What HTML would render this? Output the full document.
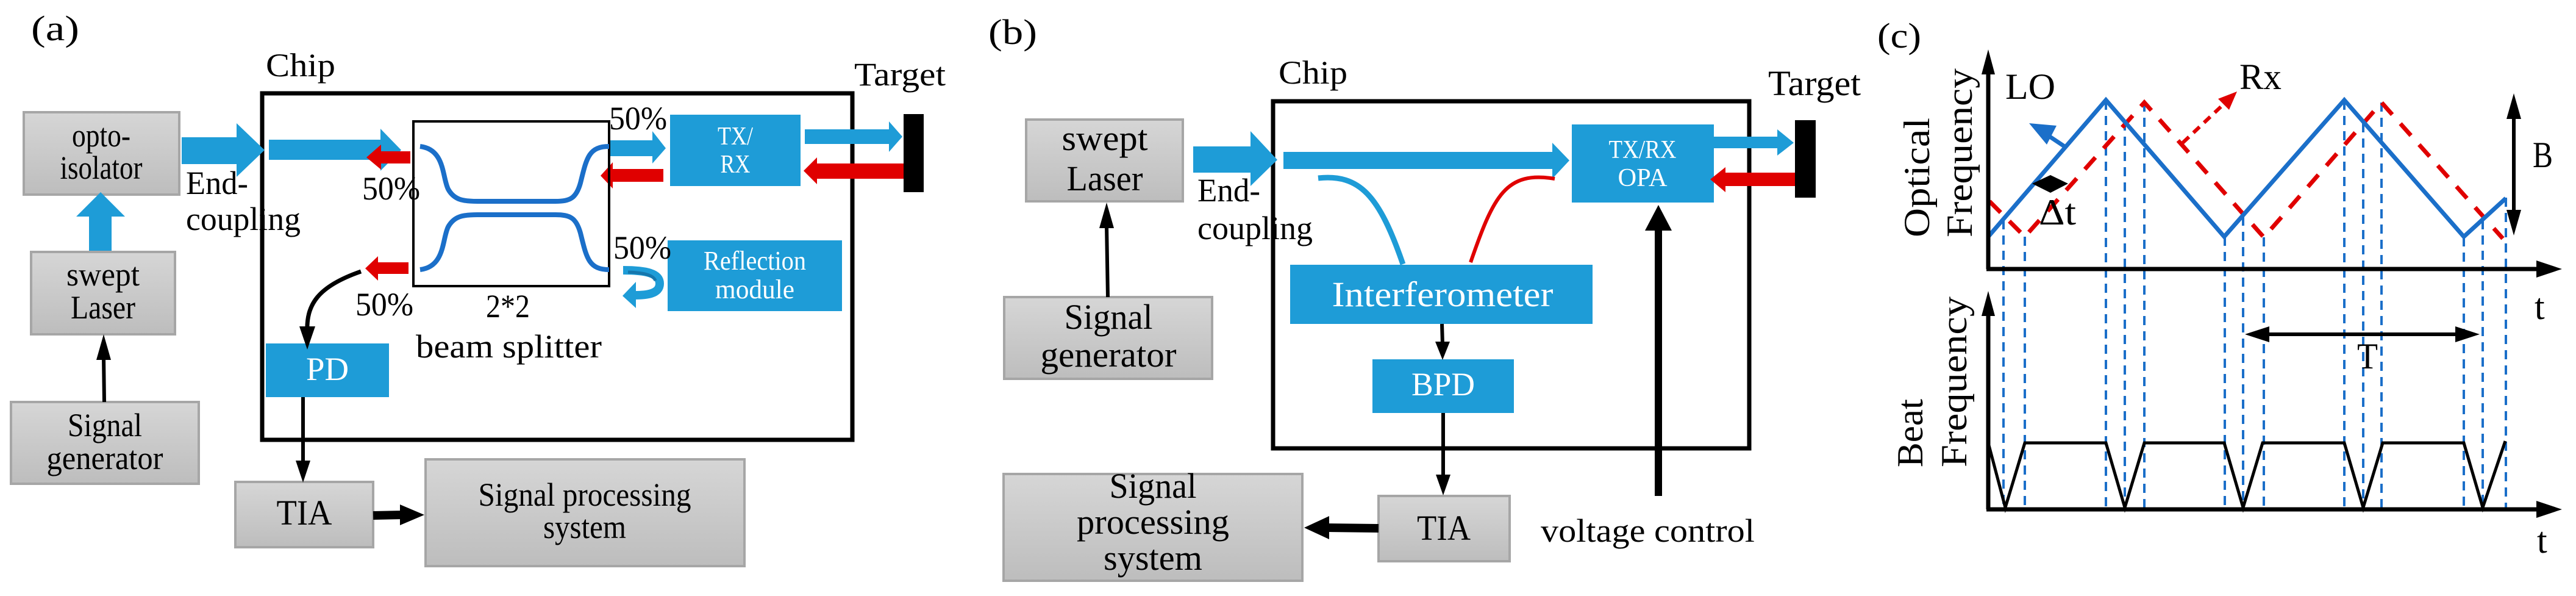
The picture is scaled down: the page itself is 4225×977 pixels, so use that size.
<!DOCTYPE html>
<html><head><meta charset="utf-8"><style>html,body{margin:0;padding:0;background:#fff;font-family:"Liberation Serif","DejaVu Serif",serif}svg{display:block}svg text{font-family:"Liberation Serif","DejaVu Serif",serif !important}</style></head>
<body>
<svg xmlns="http://www.w3.org/2000/svg" width="4225" height="977" viewBox="0 0 4225 977" font-family="'Liberation Serif', 'DejaVu Serif', serif" style="font-family:'Liberation Serif','DejaVu Serif',serif">
<defs>
<linearGradient id="g" x1="0" y1="0" x2="0" y2="1"><stop offset="0" stop-color="#d6d6d6"/><stop offset="1" stop-color="#bdbdbd"/></linearGradient>
</defs>
<rect width="4225" height="977" fill="#fff"/>
<g font-size="54" fill="#000">
<text x="51" y="66" textLength="79" lengthAdjust="spacingAndGlyphs" font-size="58">(a)</text>
<text x="436" y="125" textLength="114" lengthAdjust="spacingAndGlyphs">Chip</text>
<rect x="430" y="153" width="968" height="568" fill="none" stroke="#000" stroke-width="7"/>
<g fill="url(#g)" stroke="#a6a6a6" stroke-width="4">
<rect x="39" y="184" width="255" height="135"/>
<rect x="51" y="413" width="236" height="135"/>
<rect x="18" y="659" width="308" height="134"/>
<rect x="386" y="790" width="226" height="107"/>
<rect x="698" y="753" width="523" height="175"/>
</g>
<text x="166" y="240" text-anchor="middle" textLength="96" lengthAdjust="spacingAndGlyphs">opto-</text>
<text x="166" y="293" text-anchor="middle" textLength="135" lengthAdjust="spacingAndGlyphs">isolator</text>
<text x="169" y="468" text-anchor="middle" textLength="120" lengthAdjust="spacingAndGlyphs">swept</text>
<text x="169" y="522" text-anchor="middle" textLength="106" lengthAdjust="spacingAndGlyphs">Laser</text>
<text x="172" y="715" text-anchor="middle" textLength="122" lengthAdjust="spacingAndGlyphs">Signal</text>
<text x="172" y="769" text-anchor="middle" textLength="191" lengthAdjust="spacingAndGlyphs">generator</text>
<text x="499" y="860" text-anchor="middle" textLength="91" lengthAdjust="spacingAndGlyphs" font-size="58">TIA</text>
<text x="959" y="829" text-anchor="middle" textLength="349" lengthAdjust="spacingAndGlyphs">Signal processing</text>
<text x="959" y="882" text-anchor="middle" textLength="136" lengthAdjust="spacingAndGlyphs">system</text>
<text x="305" y="318" textLength="102" lengthAdjust="spacingAndGlyphs">End-</text>
<text x="305" y="377" textLength="188" lengthAdjust="spacingAndGlyphs">coupling</text>
<g fill="#1e9cd7">
<polygon points="146,411 146,355 125,355 165,315 205,355 183,355 183,411"/>
<polygon points="298,225 388,225 388,202 434,246 388,290 388,269 298,269"/>
<polygon points="441,229 624,229 624,211 658,246 624,280 624,262 441,262"/>
<polygon points="999,230 1070,230 1070,215 1092,243 1070,268 1070,256 999,256"/>
<polygon points="1320,212 1458,212 1458,199 1480,224 1458,249 1458,236 1320,236"/>
<rect x="1099" y="188" width="214" height="117"/>
<rect x="1095" y="394" width="286" height="116"/>
<rect x="436" y="563" width="202" height="88"/>
</g>
<g fill="#e00000">
<polygon points="673,248 625,248 625,237 601,258 625,278 625,268 673,268"/>
<polygon points="1088,277 1005,277 1005,266 985,288 1005,309 1005,298 1088,298"/>
<polygon points="1482,268 1340,268 1340,258 1318,280 1340,302 1340,293 1482,293"/>
<polygon points="670,430 620,430 620,420 599,440 620,460 620,449 670,449"/>
</g>
<rect x="1482" y="187" width="33" height="128" fill="#000"/>
<text x="1401" y="140" textLength="150" lengthAdjust="spacingAndGlyphs">Target</text>
<rect x="678" y="199" width="321" height="270" fill="none" stroke="#000" stroke-width="4"/>
<g fill="none" stroke="#1b6fc9" stroke-width="8">
<path d="M689,240 C730,245 725,290 735,310 C745,328 760,330 783,330 L911,330 C935,330 945,325 952,300 C962,260 965,240 999,240"/>
<path d="M689,442 C730,437 725,392 735,372 C745,354 760,352 783,352 L911,352 C935,352 945,357 952,382 C962,422 965,442 999,442"/>
</g>
<text x="999" y="212" textLength="95" lengthAdjust="spacingAndGlyphs">50%</text>
<text x="594" y="327" textLength="95" lengthAdjust="spacingAndGlyphs">50%</text>
<text x="1006" y="424" textLength="95" lengthAdjust="spacingAndGlyphs">50%</text>
<text x="583" y="517" textLength="95" lengthAdjust="spacingAndGlyphs">50%</text>
<text x="797" y="520" textLength="72" lengthAdjust="spacingAndGlyphs">2*2</text>
<text x="682" y="586" textLength="305" lengthAdjust="spacingAndGlyphs">beam splitter</text>
<path d="M1022,443 C1060,443 1082,448 1082,465 C1082,482 1060,484 1040,484" fill="none" stroke="#1e9cd7" stroke-width="14"/>
<path d="M1030,446 C1060,447 1072,452 1075,460" fill="none" stroke="#1577ad" stroke-width="5"/>
<polygon points="1043,462 1021,485 1043,505" fill="#1e9cd7"/>
<g fill="#fff" font-size="42">
<text x="1206" y="237" text-anchor="middle" textLength="58" lengthAdjust="spacingAndGlyphs">TX/</text>
<text x="1206" y="283" text-anchor="middle" textLength="49" lengthAdjust="spacingAndGlyphs">RX</text>
<text x="1238" y="442" text-anchor="middle" textLength="168" lengthAdjust="spacingAndGlyphs" font-size="44">Reflection</text>
<text x="1238" y="489" text-anchor="middle" textLength="130" lengthAdjust="spacingAndGlyphs" font-size="44">module</text>
<text x="537" y="623" text-anchor="middle" textLength="70" lengthAdjust="spacingAndGlyphs" font-size="54">PD</text>
</g>
<g stroke="#000" fill="none">
<line x1="171" y1="659" x2="170" y2="585" stroke-width="6"/>
<path d="M592,445 C520,470 502,500 504,545" stroke-width="7"/>
<line x1="497" y1="651" x2="497" y2="760" stroke-width="6"/>
<line x1="612" y1="845" x2="660" y2="844" stroke-width="14"/>
</g>
<g fill="#000">
<polygon points="170,548 158,590 182,590"/>
<polygon points="504,573 491,535 517,535"/>
<polygon points="497,791 485,755 509,755"/>
<polygon points="696,844 656,827 656,861"/>
</g>

<text x="1621" y="72" textLength="80" lengthAdjust="spacingAndGlyphs" font-size="58">(b)</text>
<text x="2097" y="137" textLength="113" lengthAdjust="spacingAndGlyphs">Chip</text>
<rect x="2088" y="166" width="781" height="569" fill="none" stroke="#000" stroke-width="7"/>
<g fill="url(#g)" stroke="#a6a6a6" stroke-width="4">
<rect x="1683" y="196" width="257" height="134"/>
<rect x="1647" y="487" width="341" height="134"/>
<rect x="2261" y="813" width="215" height="107"/>
<rect x="1646" y="777" width="490" height="175"/>
</g>
<text x="1812" y="246" text-anchor="middle" textLength="141" lengthAdjust="spacingAndGlyphs" font-size="58">swept</text>
<text x="1812" y="312" text-anchor="middle" textLength="125" lengthAdjust="spacingAndGlyphs" font-size="58">Laser</text>
<text x="1818" y="539" text-anchor="middle" textLength="145" lengthAdjust="spacingAndGlyphs" font-size="58">Signal</text>
<text x="1818" y="601" text-anchor="middle" textLength="223" lengthAdjust="spacingAndGlyphs" font-size="58">generator</text>
<text x="2368" y="885" text-anchor="middle" textLength="88" lengthAdjust="spacingAndGlyphs" font-size="58">TIA</text>
<text x="1891" y="816" text-anchor="middle" textLength="143" lengthAdjust="spacingAndGlyphs" font-size="58">Signal</text>
<text x="1891" y="875" text-anchor="middle" textLength="250" lengthAdjust="spacingAndGlyphs" font-size="58">processing</text>
<text x="1891" y="934" text-anchor="middle" textLength="162" lengthAdjust="spacingAndGlyphs" font-size="58">system</text>
<text x="1964" y="330" textLength="103" lengthAdjust="spacingAndGlyphs">End-</text>
<text x="1964" y="392" textLength="189" lengthAdjust="spacingAndGlyphs">coupling</text>
<text x="2527" y="888" textLength="351" lengthAdjust="spacingAndGlyphs">voltage control</text>
<g fill="#1e9cd7">
<polygon points="1957,240 2051,240 2051,215 2095,262 2051,305 2051,283 1957,283"/>
<polygon points="2105,249 2546,249 2546,234 2574,263 2546,293 2546,277 2105,277"/>
<polygon points="2811,224 2915,224 2915,212 2942,234 2915,255 2915,243 2811,243"/>
<rect x="2578" y="204" width="233" height="128"/>
<rect x="2116" y="434" width="496" height="97"/>
<rect x="2251" y="589" width="232" height="88"/>
</g>
<polygon points="2944,283 2830,283 2830,274 2805,294 2830,315 2830,305 2944,305" fill="#e00000"/>
<path d="M2162,292 C2230,285 2262,320 2301,433" fill="none" stroke="#1e9cd7" stroke-width="9"/>
<path d="M2550,293 C2470,280 2450,320 2412,430" fill="none" stroke="#e00000" stroke-width="6"/>
<rect x="2944" y="197" width="34" height="127" fill="#000"/>
<text x="2900" y="156" textLength="152" lengthAdjust="spacingAndGlyphs" font-size="58">Target</text>
<g fill="#fff">
<text x="2694" y="259" text-anchor="middle" textLength="111" lengthAdjust="spacingAndGlyphs" font-size="42">TX/RX</text>
<text x="2694" y="305" text-anchor="middle" textLength="81" lengthAdjust="spacingAndGlyphs" font-size="42">OPA</text>
<text x="2366" y="502" text-anchor="middle" textLength="363" lengthAdjust="spacingAndGlyphs" font-size="58">Interferometer</text>
<text x="2367" y="648" text-anchor="middle" textLength="104" lengthAdjust="spacingAndGlyphs" font-size="54">BPD</text>
</g>
<g stroke="#000" fill="none">
<line x1="1817" y1="487" x2="1815" y2="370" stroke-width="6"/>
<line x1="2365" y1="531" x2="2366" y2="565" stroke-width="6"/>
<line x1="2367" y1="677" x2="2367" y2="785" stroke-width="6"/>
<line x1="2261" y1="866" x2="2175" y2="865" stroke-width="14"/>
<line x1="2720" y1="813" x2="2720" y2="370" stroke-width="12"/>
</g>
<g fill="#000">
<polygon points="1815,332 1803,374 1827,374"/>
<polygon points="2366,590 2354,560 2378,560"/>
<polygon points="2367,812 2355,778 2379,778"/>
<polygon points="2139,865 2180,846 2180,884"/>
<polygon points="2720,336 2698,378 2742,378"/>
</g>

<text x="3079" y="78" textLength="72" lengthAdjust="spacingAndGlyphs" font-size="58">(c)</text>
<g fill="none" stroke="#1b6fc9" stroke-width="4" stroke-dasharray="15,10">
<line x1="3286" y1="361" x2="3286" y2="838"/>
<line x1="3321" y1="388" x2="3321" y2="838"/>
<line x1="3454" y1="165" x2="3454" y2="838"/>
<line x1="3485" y1="199" x2="3485" y2="838"/>
<line x1="3517" y1="168" x2="3517" y2="838"/>
<line x1="3649" y1="388" x2="3649" y2="838"/>
<line x1="3679" y1="355" x2="3679" y2="838"/>
<line x1="3713" y1="389" x2="3713" y2="838"/>
<line x1="3845" y1="165" x2="3845" y2="838"/>
<line x1="3876" y1="202" x2="3876" y2="838"/>
<line x1="3906" y1="168" x2="3906" y2="838"/>
<line x1="4041" y1="389" x2="4041" y2="838"/>
<line x1="4072" y1="361" x2="4072" y2="838"/>
<line x1="4110" y1="324" x2="4110" y2="838"/>
</g>
<polyline points="3263,330 3321,388 3517,168 3713,389 3906,168 4105,391" fill="none" stroke="#e00000" stroke-width="7" stroke-dasharray="26,20"/>
<polyline points="3261,388 3454,164 3648,388 3845,164 4041,388 4110,325" fill="none" stroke="#1b6fc9" stroke-width="7"/>
<line x1="3580" y1="234" x2="3650" y2="168" stroke="#e00000" stroke-width="6" stroke-dasharray="14,10"/>
<polygon points="3669,150 3638,162 3656,180" fill="#e00000"/>
<line x1="3386" y1="240" x2="3350" y2="216" stroke="#1b6fc9" stroke-width="7"/>
<polygon points="3328,202 3357,237 3373,206" fill="#1b6fc9"/>
<polygon points="3333,301 3363,287 3392,301 3363,316" fill="#000"/>
<polyline points="3261,726 3289,832 3321,726 3454,726 3485,832 3517,726 3648,726 3679,832 3711,726 3845,726 3876,832 3908,726 4041,726 4072,832 4109,723" fill="none" stroke="#000" stroke-width="5"/>
<g stroke="#000" stroke-width="7" fill="none">
<line x1="3261" y1="100" x2="3261" y2="441"/>
<line x1="3258" y1="441" x2="4180" y2="441"/>
<line x1="3261" y1="500" x2="3261" y2="835"/>
<line x1="3258" y1="835" x2="4180" y2="835"/>
<line x1="4123" y1="185" x2="4123" y2="355" stroke-width="6"/>
<line x1="3710" y1="548" x2="4040" y2="548" stroke-width="6"/>
</g>
<g fill="#000">
<polygon points="3261,81 3250,122 3272,122"/>
<polygon points="4202,441 4160,427 4160,455"/>
<polygon points="3261,477 3250,518 3272,518"/>
<polygon points="4202,835 4160,821 4160,849"/>
<polygon points="4123,153 4111,195 4135,195"/>
<polygon points="4123,386 4111,344 4135,344"/>
<polygon points="3682,548 3722,535 3722,561"/>
<polygon points="4067,548 4027,535 4027,561"/>
</g>
<g font-size="60">
<text x="3289" y="162" textLength="82" lengthAdjust="spacingAndGlyphs">LO</text>
<text x="3673" y="146" textLength="69" lengthAdjust="spacingAndGlyphs">Rx</text>
<text x="4154" y="274" textLength="33" lengthAdjust="spacingAndGlyphs">B</text>
<text x="3344" y="368" textLength="61" lengthAdjust="spacingAndGlyphs">Δt</text>
<text x="3866" y="604" textLength="34" lengthAdjust="spacingAndGlyphs">T</text>
<text x="4157" y="523">t</text>
<text x="4161" y="906">t</text>
<text transform="translate(3164,389) rotate(-90)" textLength="196" lengthAdjust="spacingAndGlyphs">Optical</text>
<text transform="translate(3234,389) rotate(-90)" textLength="277" lengthAdjust="spacingAndGlyphs">Frequency</text>
<text transform="translate(3153,766) rotate(-90)" textLength="112" lengthAdjust="spacingAndGlyphs">Beat</text>
<text transform="translate(3225,766) rotate(-90)" textLength="280" lengthAdjust="spacingAndGlyphs">Frequency</text>
</g>
</g>
</svg>
</body></html>
